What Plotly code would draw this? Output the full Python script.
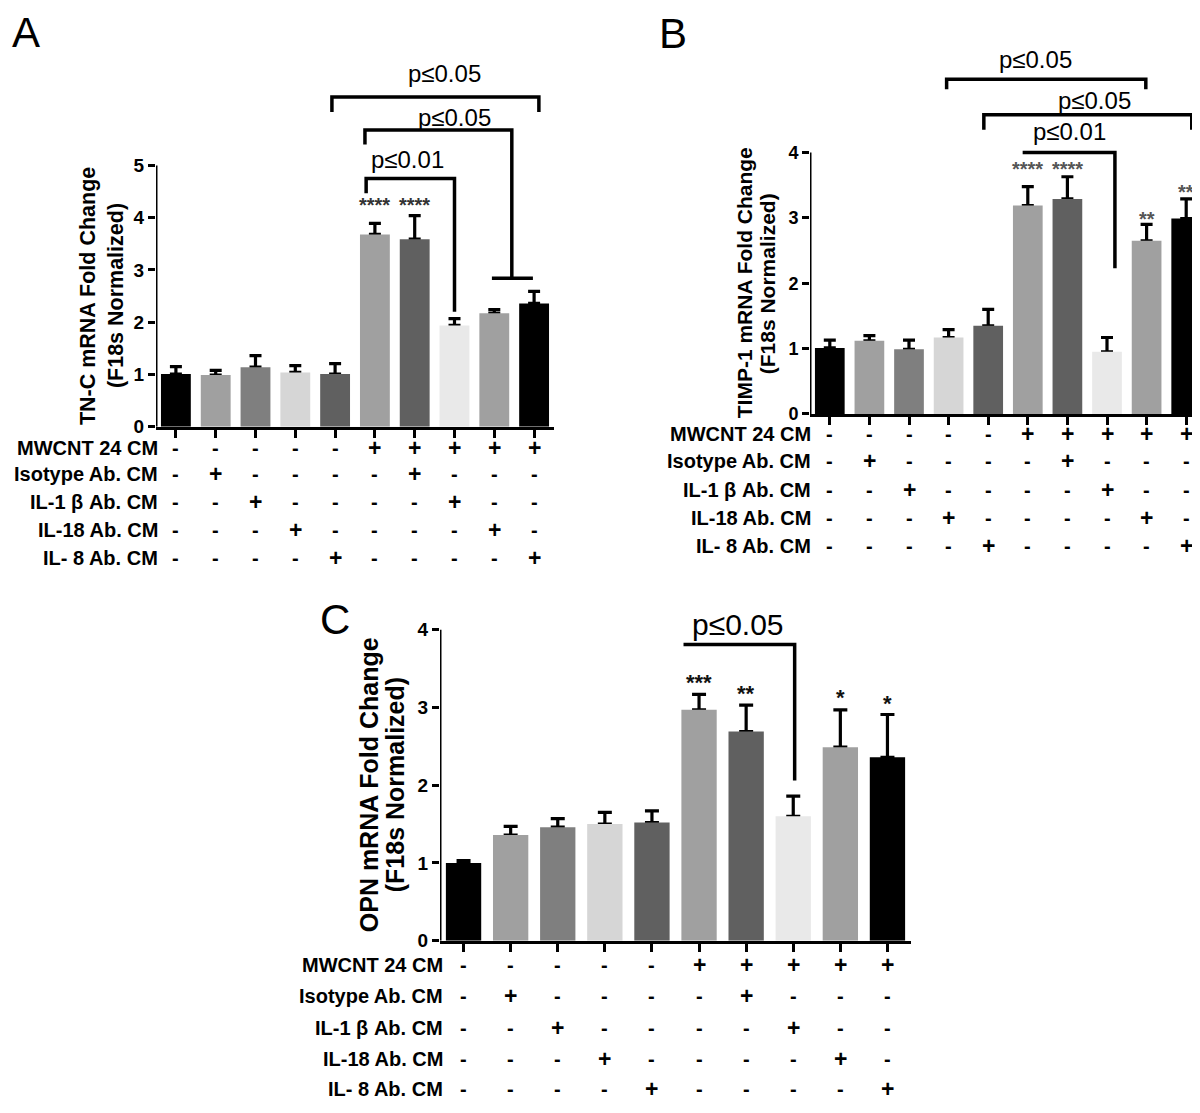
import plotly.graph_objects as go

# ---------------- data ----------------
groups = list(range(10))  # 10 treatment groups, left to right

tnc_mean = [1.01, 0.99, 1.14, 1.04, 1.01, 3.68, 3.59, 1.94, 2.17, 2.36]
tnc_err = [0.14, 0.09, 0.22, 0.13, 0.20, 0.21, 0.45, 0.13, 0.07, 0.23]

timp_mean = [1.01, 1.12, 0.99, 1.17, 1.35, 3.19, 3.29, 0.95, 2.65, 2.99]
timp_err = [0.12, 0.08, 0.14, 0.12, 0.25, 0.29, 0.34, 0.22, 0.25, 0.30]

opn_mean = [1.00, 1.36, 1.46, 1.50, 1.52, 2.97, 2.69, 1.60, 2.49, 2.36]
opn_err = [0.03, 0.11, 0.11, 0.15, 0.15, 0.20, 0.34, 0.26, 0.48, 0.55]

bar_colors = ["#000000", "#a0a0a0", "#7f7f7f", "#d6d6d6", "#606060",
              "#a0a0a0", "#606060", "#e9e9e9", "#a0a0a0", "#000000"]

row_labels = ["MWCNT 24 CM", "Isotype Ab. CM", "IL-1 β Ab. CM", "IL-18 Ab. CM", "IL- 8 Ab. CM"]
row_mwcnt = ["-", "-", "-", "-", "-", "+", "+", "+", "+", "+"]
row_isotype = ["-", "+", "-", "-", "-", "-", "+", "-", "-", "-"]
row_il1b = ["-", "-", "+", "-", "-", "-", "-", "+", "-", "-"]
row_il18 = ["-", "-", "-", "+", "-", "-", "-", "-", "+", "-"]
row_il8 = ["-", "-", "-", "-", "+", "-", "-", "-", "-", "+"]
rows = [row_mwcnt, row_isotype, row_il1b, row_il18, row_il8]

# significance stars: (group, text, height)
stars_A = [(5, "****", 4.34), (6, "****", 4.34)]
stars_B = [(5, "****", 3.82), (6, "****", 3.82), (8, "**", 3.06), (9, "**", 3.47)]
stars_C = [(5, "***", 3.38), (6, "**", 3.24), (8, "*", 3.19), (9, "*", 3.12)]

# ---------------- layout helpers ----------------
W, H = 1200, 1113
FONT = "Liberation Sans, Arial, sans-serif"


def px(x):
    return x / W


def py(y):
    return 1 - y / H


fig = go.Figure()
annotations = []
shapes = []

panels = [
    dict(name="A", ax="", mean=tnc_mean, err=tnc_err, x0=148, step=39.8, y0=423, unit=52.8,
         ymax=7.0, ytop=5, tickfont=19, cap=6,
         title=["TN-C mRNA Fold Change", "(F18s Normalized)"], title_x=[80, 108], title_fs=21.5,
         letter=(18, 25), rows_y=[444, 471, 499, 527, 555], label_right=152, row_fs=20,
         stars=stars_A, star_fs=20, star_color="#333333", pfs=24),
    dict(name="B", ax="2", mean=timp_mean, err=timp_err, x0=802, step=39.6, y0=410, unit=66.0,
         ymax=5.7, ytop=4, tickfont=18, cap=6,
         title=["TIMP-1 mRNA Fold Change", "(F18s Normalized)"], title_x=[736, 759], title_fs=21,
         letter=(665, 26), rows_y=[430, 458, 487, 515, 543], label_right=805, row_fs=20,
         stars=stars_B, star_fs=20, star_color="#555555", pfs=24),
    dict(name="C", ax="3", mean=opn_mean, err=opn_err, x0=432, step=47.1, y0=942, unit=78.5,
         ymax=4.4, ytop=4, tickfont=19, cap=7,
         title=["OPN mRNA Fold Change", "(F18s Normalized)"], title_x=[361, 387], title_fs=25,
         letter=(327, 618), rows_y=[967, 998, 1030, 1061, 1092], label_right=437, row_fs=20,
         stars=stars_C, star_fs=22, star_color="#111111", pfs=30),
]

# brackets: path points, label, label position
brackets = {
    "A": [
        ([(4.78, 4.47), (4.78, 4.75), (7.0, 4.75), (7.0, 2.2)], "p≤0.01", (5.83, 5.11)),
        ([(4.75, 5.40), (4.75, 5.68), (8.44, 5.68), (8.44, 2.84)], "p≤0.05", (7.01, 5.91)),
        ([(7.94, 2.84), (8.97, 2.84)], None, None),
        ([(3.92, 6.02), (3.92, 6.31), (9.12, 6.31), (9.12, 6.02)], "p≤0.05", (6.76, 6.76)),
    ],
    "B": [
        ([(4.87, 4.0), (7.2, 4.0), (7.2, 2.23)], "p≤0.01", (6.06, 4.32)),
        ([(3.89, 4.35), (3.89, 4.58), (9.14, 4.58), (9.14, 4.35)], "p≤0.05", (6.69, 4.80)),
        ([(2.95, 4.97), (2.95, 5.12), (7.98, 5.12), (7.98, 4.97)], "p≤0.05", (5.20, 5.42)),
    ],
    "C": [
        ([(4.67, 3.81), (7.03, 3.81), (7.03, 2.06)], "p≤0.05", (5.82, 4.07)),
    ],
}

layout_axes = {}
for p in panels:
    ax = p["ax"]
    xref = "x" + ax
    yref = "y" + ax
    x_lo = p["x0"]
    x_hi = p["x0"] + 10 * p["step"]
    y_bottom = p["y0"]
    y_top = p["y0"] - p["ymax"] * p["unit"]

    # invisible carrier for error bars (covered by the visible bars below the bar top)
    fig.add_trace(go.Bar(
        x=groups, y=p["mean"], width=0.75,
        marker=dict(color="rgba(0,0,0,0)", line=dict(width=0)),
        error_y=dict(type="data", symmetric=False, array=p["err"],
                     arrayminus=[0] * len(p["err"]), color="black", thickness=3.2, width=p["cap"]),
        xaxis=xref, yaxis=yref, showlegend=False, hoverinfo="skip"))
    fig.add_trace(go.Bar(
        x=groups, y=p["mean"], width=0.75,
        marker=dict(color=bar_colors, line=dict(width=0)),
        xaxis=xref, yaxis=yref, showlegend=False))

    layout_axes["xaxis" + ax] = dict(
        domain=[px(x_lo), min(1.0, px(x_hi))], range=[-0.5, 9.5], anchor=yref,
        showline=True, linewidth=3, linecolor="black", ticks="outside", ticklen=8,
        tickwidth=2.5, tickcolor="black", tickvals=groups, showticklabels=False,
        showgrid=False, zeroline=False, fixedrange=True)
    layout_axes["yaxis" + ax] = dict(
        domain=[py(y_bottom), py(y_top)], range=[0, p["ymax"]], anchor=xref,
        showline=False, ticks="outside", ticklen=7, tickwidth=2.5, tickcolor="black",
        tickvals=list(range(p["ytop"] + 1)),
        tickfont=dict(family=FONT, size=p["tickfont"], color="black", weight="bold"),
        showgrid=False, zeroline=False, fixedrange=True)

    # y axis line only from 0 to top tick
    shapes.append(dict(type="line", xref=xref, yref=yref, x0=-0.5, x1=-0.5, y0=0, y1=p["ytop"],
                       line=dict(color="black", width=3)))

    # axis title (two lines, rotated)
    yc = p["y0"] - p["ytop"] / 2 * p["unit"]
    for txt, tx in zip(p["title"], p["title_x"]):
        annotations.append(dict(text=txt, x=px(tx), y=py(yc), xref="paper", yref="paper",
                                textangle=-90, showarrow=False, xanchor="center", yanchor="middle",
                                font=dict(family=FONT, size=p["title_fs"], color="black", weight="bold")))

    # panel letter
    annotations.append(dict(text=p["name"], x=px(p["letter"][0]), y=py(p["letter"][1]),
                            xref="paper", yref="paper", showarrow=False,
                            xanchor="center", yanchor="middle",
                            font=dict(family=FONT, size=42, color="black")))

    # condition table
    for lbl, ry, signs in zip(row_labels, p["rows_y"], rows):
        annotations.append(dict(text=lbl, x=px(p["label_right"]), y=py(ry), xref="paper",
                                yref="paper", showarrow=False, xanchor="right", yanchor="middle",
                                font=dict(family=FONT, size=p["row_fs"], color="black", weight="bold")))
        for g, s in zip(groups, signs):
            annotations.append(dict(text=s, x=g, y=py(ry), xref=xref, yref="paper",
                                    showarrow=False, xanchor="center", yanchor="middle",
                                    font=dict(family=FONT, size=p["row_fs"] + (3 if s == "+" else 0),
                                              color="black", weight="bold")))

    # significance stars
    for g, s, sy in p["stars"]:
        annotations.append(dict(text=s, x=g, y=sy, xref=xref, yref=yref, showarrow=False,
                                xanchor="center", yanchor="middle", yshift=-5,
                                font=dict(family=FONT, size=p["star_fs"], color=p["star_color"],
                                          weight="bold")))

    # brackets and p-values
    for pts, label, pos in brackets[p["name"]]:
        path = "M " + " L ".join(f"{x},{y}" for x, y in pts)
        shapes.append(dict(type="path", path=path, xref=xref, yref=yref,
                           line=dict(color="black", width=3.5)))
        if label:
            annotations.append(dict(text=label, x=pos[0], y=pos[1], xref=xref, yref=yref,
                                    showarrow=False, xanchor="center", yanchor="middle",
                                    font=dict(family=FONT, size=p["pfs"], color="black")))

fig.update_layout(
    width=W, height=H, autosize=False,
    margin=dict(l=0, r=0, t=0, b=0),
    paper_bgcolor="white", plot_bgcolor="white",
    barmode="overlay", showlegend=False,
    annotations=annotations, shapes=shapes,
    **layout_axes)

fig.write_html("out.html")
